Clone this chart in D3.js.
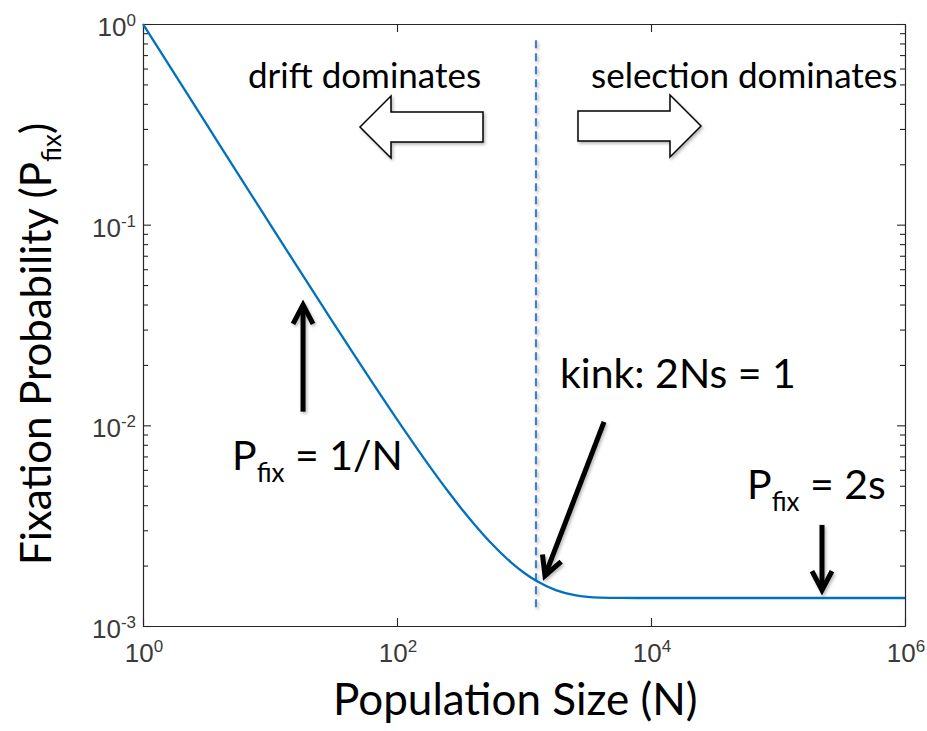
<!DOCTYPE html>
<html>
<head>
<meta charset="utf-8">
<script src="https://cdn.jsdelivr.net/npm/d3@7"></script>
<style>
  html, body { margin: 0; padding: 0; background: #fff; }
  svg { display: block; }
</style>
</head>
<body>
<svg id="chart" width="927" height="731"></svg>
<script>
// Fixation probability of a beneficial mutation vs. population size
const popSize = [1, 3.162, 10, 31.62, 100, 177.8, 251.2, 316.2, 398.1, 562.3, 794.3,
                 1000, 1259, 1778, 2512, 3162, 3981, 5623, 10000, 100000, 1000000];
const pFix    = [1.0, 0.3167, 0.1006, 0.03229, 0.01070, 0.006335, 0.004707, 0.003899, 0.003263,
                 0.002555, 0.002071, 0.001843, 0.001674, 0.001509, 0.001424, 0.001397, 0.001385,
                 0.001380, 0.001379, 0.001379, 0.001379];

// axis ticks
const xTickExp = [0, 2, 4, 6];
const yTickExp = [0, -1, -2, -3];

// kink where 2Ns = 1 (dashed marker) and its vertical extent
const kinkN = 1243;
const kinkSpan = [0.0012, 0.83];

// annotation arrows, in data units: [N, P] from -> to
const arrowOneOverN = [[18.2, 0.0117], [18.2, 0.0398]];
const arrowTwoS     = [[2.22e5, 0.00319], [2.22e5, 0.00151]];
const arrowKink     = [[4266, 0.0104], [1463, 0.00178]];

const W = 927, H = 731;
const svg = d3.select("#chart");
const plot = { left: 143, right: 905, top: 24, bottom: 626 };

const x = d3.scaleLog().domain([1, 1e6]).range([plot.left, plot.right]);
const y = d3.scaleLog().domain([1e-3, 1]).range([plot.bottom, plot.top]);

const axisColor = "#262626";
const labelColor = "#3a3a3a";
const annoFont = "Lato, 'Open Sans', sans-serif";

// soft shadow for the drawn annotation shapes (user-space region so thin lines keep it)
const defs = svg.append("defs");
const f = defs.append("filter").attr("id", "shadow")
  .attr("filterUnits", "userSpaceOnUse")
  .attr("x", 0).attr("y", 0).attr("width", W).attr("height", H);
f.append("feDropShadow").attr("dx", 1.5).attr("dy", 2).attr("stdDeviation", 1.4)
  .attr("flood-color", "#000").attr("flood-opacity", 0.28);

// ---- axes box and ticks ----
const majorY = yTickExp.map(e => Math.pow(10, e));
const minorY = [];
for (let e = -3; e < 0; e++) for (let m = 2; m <= 9; m++) minorY.push(m * Math.pow(10, e));
const majorX = xTickExp.map(e => Math.pow(10, e));

function styleAxis(g) {
  g.selectAll("path, line").attr("stroke", axisColor).attr("stroke-width", 1.1);
  g.selectAll("text").remove();
}

svg.append("g").attr("transform", `translate(0,${plot.bottom})`)
  .call(d3.axisBottom(x).tickValues(majorX).tickSizeInner(-8).tickSizeOuter(0).tickFormat(""))
  .call(styleAxis);
svg.append("g").attr("transform", `translate(0,${plot.top})`)
  .call(d3.axisTop(x).tickValues(majorX).tickSizeInner(-8).tickSizeOuter(0).tickFormat(""))
  .call(styleAxis);
svg.append("g").attr("transform", `translate(${plot.left},0)`)
  .call(d3.axisLeft(y).tickValues(majorY).tickSizeInner(-8).tickSizeOuter(0).tickFormat(""))
  .call(styleAxis);
svg.append("g").attr("transform", `translate(${plot.left},0)`)
  .call(d3.axisLeft(y).tickValues(minorY).tickSizeInner(-5).tickSizeOuter(0).tickFormat(""))
  .call(styleAxis);
svg.append("g").attr("transform", `translate(${plot.right},0)`)
  .call(d3.axisRight(y).tickValues(majorY).tickSizeInner(-8).tickSizeOuter(0).tickFormat(""))
  .call(styleAxis);
svg.append("g").attr("transform", `translate(${plot.right},0)`)
  .call(d3.axisRight(y).tickValues(minorY).tickSizeInner(-5).tickSizeOuter(0).tickFormat(""))
  .call(styleAxis);

// tick labels written as 10 with a superscript exponent
function powerLabel(sel, exp) {
  sel.append("tspan").text("10");
  sel.append("tspan").attr("dy", -10).attr("font-size", 17).text(String(exp));
}
xTickExp.forEach(e => {
  const t = svg.append("text")
    .attr("x", x(Math.pow(10, e)) + 1).attr("y", 662)
    .attr("text-anchor", "middle")
    .attr("font-family", "'Liberation Sans', Arial, sans-serif")
    .attr("font-size", 26).attr("fill", labelColor);
  powerLabel(t, e);
});
yTickExp.forEach(e => {
  const t = svg.append("text")
    .attr("x", 136).attr("y", y(Math.pow(10, e)) + 12)
    .attr("text-anchor", "end")
    .attr("font-family", "'Liberation Sans', Arial, sans-serif")
    .attr("font-size", 26).attr("fill", labelColor);
  powerLabel(t, e);
});

// ---- axis titles ----
svg.append("text")
  .attr("x", 333).attr("y", 715)
  .attr("font-family", annoFont).attr("font-size", 44).attr("fill", "#000")
  .text("Population Size (N)");

const yTitle = svg.append("text")
  .attr("transform", "translate(51,565) rotate(-90)")
  .attr("font-family", annoFont).attr("font-size", 42).attr("fill", "#000");
yTitle.append("tspan").text("Fixation Probability (P");
yTitle.append("tspan").attr("font-size", 26).attr("dy", 10).text("fix");
yTitle.append("tspan").attr("dy", -10).text(")");

// ---- data ----
const line = d3.line()
  .x((d, i) => x(popSize[i]))
  .y(d => y(d))
  .curve(d3.curveMonotoneX);

// dashed kink marker
svg.append("line")
  .attr("x1", x(kinkN)).attr("x2", x(kinkN))
  .attr("y1", y(kinkSpan[1])).attr("y2", y(kinkSpan[0]))
  .attr("stroke", "#4a7fc1").attr("stroke-width", 2.2)
  .attr("stroke-dasharray", "8,5")
  .attr("filter", "url(#shadow)");

svg.append("path")
  .datum(pFix)
  .attr("d", line)
  .attr("fill", "none")
  .attr("stroke", "#0072BD")
  .attr("stroke-width", 2.3);

// ---- annotations ----
function blockArrow(tipX, tipY, tailX, bodyHalf, headHalf, headLen) {
  const dir = tailX > tipX ? 1 : -1;
  const bx = tipX + dir * headLen;
  return `M${tipX},${tipY} L${bx},${tipY - headHalf} L${bx},${tipY - bodyHalf}` +
         ` L${tailX},${tipY - bodyHalf} L${tailX},${tipY + bodyHalf} L${bx},${tipY + bodyHalf}` +
         ` L${bx},${tipY + headHalf} Z`;
}
svg.append("path")
  .attr("d", blockArrow(360, 127, 483, 15, 31, 31))
  .attr("fill", "#fff").attr("stroke", "#000").attr("stroke-width", 1.5)
  .attr("stroke-linejoin", "miter").attr("filter", "url(#shadow)");
svg.append("path")
  .attr("d", blockArrow(701, 126, 578, 15, 31, 31))
  .attr("fill", "#fff").attr("stroke", "#000").attr("stroke-width", 1.5)
  .attr("stroke-linejoin", "miter").attr("filter", "url(#shadow)");

svg.append("text").attr("x", 248).attr("y", 88)
  .attr("font-family", annoFont).attr("font-size", 35).text("drift dominates");
svg.append("text").attr("x", 591).attr("y", 88)
  .attr("font-family", annoFont).attr("font-size", 35).text("selection dominates");

// solid black arrows with open chevron heads
function blackArrow(pts) {
  const x1 = x(pts[0][0]), y1 = y(pts[0][1]);
  const x2 = x(pts[1][0]), y2 = y(pts[1][1]);
  const ang = Math.atan2(y2 - y1, x2 - x1);
  const back = 19, side = 10;
  const ux = Math.cos(ang), uy = Math.sin(ang);
  const la = [x2 - ux * back - uy * side, y2 - uy * back + ux * side];
  const ra = [x2 - ux * back + uy * side, y2 - uy * back - ux * side];
  const g = svg.append("g").attr("filter", "url(#shadow)");
  g.append("line")
    .attr("x1", x1).attr("y1", y1).attr("x2", x2 - ux * 3).attr("y2", y2 - uy * 3)
    .attr("stroke", "#000").attr("stroke-width", 5);
  g.append("path")
    .attr("d", `M${la[0]},${la[1]} L${x2},${y2} L${ra[0]},${ra[1]}`)
    .attr("fill", "none").attr("stroke", "#000").attr("stroke-width", 5)
    .attr("stroke-linejoin", "miter").attr("stroke-linecap", "butt");
}
blackArrow(arrowOneOverN);
blackArrow(arrowTwoS);
blackArrow(arrowKink);

function pfixLabel(px, py, rest) {
  const t = svg.append("text").attr("x", px).attr("y", py)
    .attr("font-family", annoFont).attr("font-size", 41).attr("fill", "#000");
  t.append("tspan").text("P");
  t.append("tspan").attr("font-size", 26).attr("dy", 12).text("fix");
  t.append("tspan").attr("dy", -12).text(rest);
}
pfixLabel(232, 470, " = 1/N");
pfixLabel(747, 499, " = 2s");

svg.append("text").attr("x", 560).attr("y", 388)
  .attr("font-family", annoFont).attr("font-size", 41).attr("fill", "#000")
  .text("kink: 2Ns = 1");
</script>
</body>
</html>
